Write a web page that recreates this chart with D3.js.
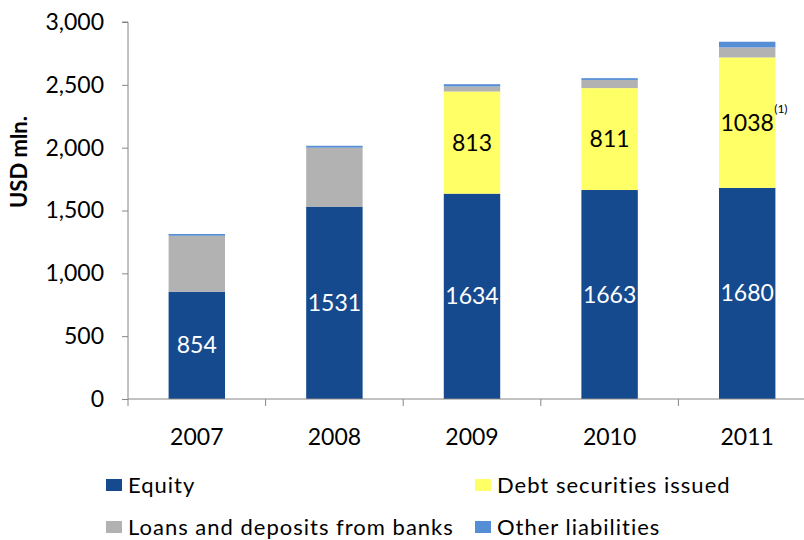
<!DOCTYPE html>
<html>
<head>
<meta charset="utf-8">
<script src="https://cdn.jsdelivr.net/npm/d3@7"></script>
<style>
  body { margin: 0; background: #fff; }
  text { font-family: Lato, 'Open Sans', sans-serif; }
</style>
</head>
<body>
<script>
const years = ['2007', '2008', '2009', '2010', '2011'];
const equity = [854, 1531, 1634, 1663, 1680];
const debt = [0, 0, 813, 811, 1038];
const loans = [445, 469, 40, 65, 80];
const other = [14, 15, 18, 14, 45];
const yTicks = [0, 500, 1000, 1500, 2000, 2500, 3000];

const keys = ['equity', 'debt', 'loans', 'other'];
const names = {
  equity: 'Equity',
  debt: 'Debt securities issued',
  loans: 'Loans and deposits from banks',
  other: 'Other liabilities',
};
const colors = { equity: '#154a8e', debt: '#ffff66', loans: '#b2b2b2', other: '#558ed5' };

let data = years.map((y, i) => ({ year: y, equity: equity[i], debt: debt[i], loans: loans[i], other: other[i] }));
let stacked = d3.stack().keys(keys)(data);

let svg = d3.select('body').append('svg').attr('width', 804).attr('height', 540);

let x = d3.scaleBand(years, [128, 816]).paddingInner(0.59).paddingOuter(0.295);
let y = d3.scaleLinear([0, 3000], [399, 22]);

// bars
svg
  .selectAll('g.layer')
  .data(stacked)
  .enter()
  .append('g')
  .attr('class', 'layer')
  .attr('fill', (d) => colors[d.key])
  .selectAll('rect')
  .data((d) => d)
  .enter()
  .append('rect')
  .attr('x', (d) => x(d.data.year))
  .attr('width', x.bandwidth())
  .attr('y', (d) => y(d[1]))
  .attr('height', (d) => y(d[0]) - y(d[1]));

// axes
let axisColor = '#868686';
let yAxis = svg
  .append('g')
  .attr('transform', 'translate(128,0)')
  .call(d3.axisLeft(y).tickValues(yTicks).tickSize(6).tickPadding(18).tickFormat(d3.format(',')));
yAxis.select('.domain').attr('stroke', axisColor).attr('d', `M-6,${y(3000)}H0V${y(0)}`);
yAxis.selectAll('.tick line').attr('stroke', axisColor);
yAxis.selectAll('.tick text').attr('font-size', 23).attr('fill', '#000').attr('font-family', 'Lato');

let step = x.step();
let xAxis = svg.append('g').attr('transform', `translate(0,${y(0)})`);
xAxis.append('line').attr('x1', 128).attr('x2', 816).attr('stroke', axisColor);
xAxis
  .selectAll('line.tk')
  .data(years)
  .enter()
  .append('line')
  .attr('class', 'tk')
  .attr('x1', (d) => x(d) + x.bandwidth() / 2 - step / 2)
  .attr('x2', (d) => x(d) + x.bandwidth() / 2 - step / 2)
  .attr('y1', 0)
  .attr('y2', 7)
  .attr('stroke', axisColor);
xAxis
  .selectAll('text')
  .data(years)
  .enter()
  .append('text')
  .attr('x', (d) => x(d) + x.bandwidth() / 2)
  .attr('y', 46)
  .attr('text-anchor', 'middle')
  .attr('font-size', 23)
  .text((d) => d);

// y title
svg
  .append('text')
  .attr('transform', 'translate(27,162) rotate(-90)')
  .attr('text-anchor', 'middle')
  .attr('font-size', 22)
  .attr('font-weight', 'bold')
  .text('USD mln.');

// value labels
let labelLayers = stacked.filter((s) => s.key == 'equity' || s.key == 'debt');
labelLayers.forEach((s) => {
  svg
    .selectAll(null)
    .data(s.filter((d) => d[1] - d[0] > 0))
    .enter()
    .append('text')
    .attr('x', (d) => x(d.data.year) + x.bandwidth() / 2)
    .attr('y', (d) => (y(d[0]) + y(d[1])) / 2)
    .attr('dy', '0.35em')
    .attr('text-anchor', 'middle')
    .attr('font-size', 23)
    .attr('fill', s.key == 'equity' ? '#fff' : '#000')
    .text((d) => d.data[s.key]);
});

// footnote marker on 2011 debt
let d11 = stacked[1][4];
svg
  .append('text')
  .attr('x', x('2011') + x.bandwidth() / 2 + 27)
  .attr('y', (y(d11[0]) + y(d11[1])) / 2 - 10)
  .attr('font-size', 12)
  .text('(1)');

// legend
let legendPos = [
  { key: 'equity', x: 106, y: 485 },
  { key: 'debt', x: 475, y: 485 },
  { key: 'loans', x: 106, y: 527 },
  { key: 'other', x: 475, y: 527 },
];
let lg = svg
  .selectAll('g.legend')
  .data(legendPos)
  .enter()
  .append('g')
  .attr('class', 'legend')
  .attr('transform', (d) => `translate(${d.x},${d.y})`);
lg.append('rect')
  .attr('x', 0)
  .attr('y', -6)
  .attr('width', 16)
  .attr('height', 12)
  .attr('fill', (d) => colors[d.key]);
lg.append('text')
  .attr('x', 22)
  .attr('dy', '0.35em')
  .attr('font-size', 22)
  .attr('letter-spacing', 1)
  .text((d) => names[d.key]);
</script>
</body>
</html>
